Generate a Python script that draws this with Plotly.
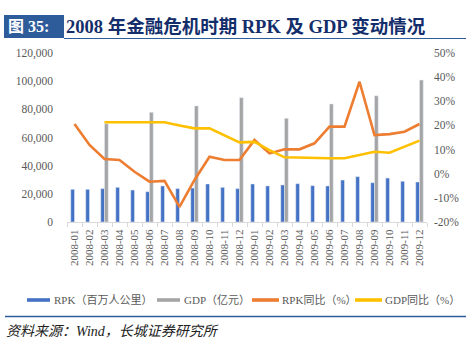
import plotly.graph_objects as go

months = ["2008-01", "2008-02", "2008-03", "2008-04", "2008-05", "2008-06",
          "2008-07", "2008-08", "2008-09", "2008-10", "2008-11", "2008-12",
          "2009-01", "2009-02", "2009-03", "2009-04", "2009-05", "2009-06",
          "2009-07", "2009-08", "2009-09", "2009-10", "2009-11", "2009-12"]

rpk = [23200, 23200, 23700, 24600, 22700, 21500, 25600, 23700, 24100, 27000, 24600, 23700,
       27000, 25600, 26300, 27200, 25800, 25600, 29800, 32200, 27900, 31200, 28900, 28400]

gdp = [None, None, 69800, None, None, 77900, None, None, 82400, None, None, 88300,
       None, None, 73600, None, None, 83800, None, None, 89600, None, None, 100800]

rpk_yoy = [20.6, 11.9, 6.1, 5.7, 0.8, -3.3, -3.0, -13.7, -2.6, 7.0, 5.7, 5.7,
           14.0, 8.4, 10.1, 10.1, 12.6, 19.5, 19.5, 38.1, 16.0, 16.4, 17.4, 20.6]

gdp_yoy = [None, None, 21.3, 21.3, 21.3, 21.3, 21.3, 20.0, 18.8, 18.8, 16.0, 13.0,
           13.2, 9.8, 6.8, 6.6, 6.6, 6.4, 6.4, 7.7, 9.1, 8.7, 11.2, 13.7]

left_ticks = [0, 20000, 40000, 60000, 80000, 100000, 120000]
right_ticks = [-20, -10, 0, 10, 20, 30, 40, 50]
right_labels = ["-20%", "-10%", "0%", "10%", "20%", "30%", "40%", "50%"]

series_names = ["RPK（百万人公里）", "GDP（亿元）", "RPK同比（%）", "GDP同比（%）"]
colors = ["#4472C4", "#A5A5A5", "#ED7D31", "#FFC000"]

title_tag = "图 35:"
title_text = "2008 年金融危机时期 RPK 及 GDP 变动情况"
source_text = "资料来源：Wind，长城证券研究所"

W, H = 474, 350
L, R, T, B = 67, 427, 53, 222
FONT = "Liberation Serif, Noto Sans CJK SC, serif"
GREY = "#595959"
BLUE = "#2E5C9A"


def px(x):
    return (x - L) / (R - L)


def py(y):
    return (B - y) / (B - T)


fig = go.Figure()
fig.add_trace(go.Bar(x=months, y=rpk, name=series_names[0], marker_color=colors[0], yaxis="y"))
fig.add_trace(go.Bar(x=months, y=gdp, name=series_names[1], marker_color=colors[1], yaxis="y"))
fig.add_trace(go.Scatter(x=months, y=rpk_yoy, name=series_names[2], mode="lines",
                         line=dict(color=colors[2], width=2.6), yaxis="y2"))
fig.add_trace(go.Scatter(x=months, y=gdp_yoy, name=series_names[3], mode="lines",
                         line=dict(color=colors[3], width=2.6), yaxis="y2"))

shapes = []
annotations = []

# title block
shapes.append(dict(type="rect", xref="paper", yref="paper", x0=px(4), x1=px(64), y0=py(15), y1=py(38),
                   fillcolor=BLUE, line=dict(width=0), layer="above"))
annotations.append(dict(text="<b>" + title_tag + "</b>", xref="paper", yref="paper", x=px(6), y=py(26.5),
                        xanchor="left", yanchor="middle", showarrow=False,
                        font=dict(family=FONT, size=16, color="white")))
annotations.append(dict(text="<b>" + title_text + "</b>", xref="paper", yref="paper", x=px(64), y=py(26.5),
                        xanchor="left", yanchor="middle", showarrow=False,
                        font=dict(family=FONT, size=18.5, color="#132E6B")))
shapes.append(dict(type="line", xref="paper", yref="paper", x0=px(64), x1=px(466), y0=py(38.5), y1=py(38.5),
                   line=dict(color=BLUE, width=1.2)))

# custom legend
sw_x = [(27, 50), (157, 180), (252, 279), (355, 382)]
tx_x = [52, 182, 280, 383]
for (a, b), t, c, n in zip(sw_x, tx_x, colors, series_names):
    shapes.append(dict(type="rect", xref="paper", yref="paper", x0=px(a), x1=px(b), y0=py(301.8), y1=py(298.2),
                       fillcolor=c, line=dict(width=0)))
    annotations.append(dict(text=n, xref="paper", yref="paper", x=px(t), y=py(300),
                            xanchor="left", yanchor="middle", showarrow=False,
                            font=dict(family=FONT, size=11, color=GREY)))

# source
shapes.append(dict(type="line", xref="paper", yref="paper", x0=px(5), x1=px(466), y0=py(316.5), y1=py(316.5),
                   line=dict(color=BLUE, width=1.5)))
annotations.append(dict(text=source_text, xref="paper", yref="paper", x=px(4), y=py(331),
                        xanchor="left", yanchor="middle", showarrow=False,
                        font=dict(family=FONT, size=14, color="#222222", style="italic")))

fig.update_layout(
    width=W, height=H,
    margin=dict(l=L, r=W - R, t=T, b=H - B, pad=0),
    paper_bgcolor="white", plot_bgcolor="white",
    barmode="group", bargap=0.5, bargroupgap=0,
    showlegend=False,
    font=dict(family=FONT, size=11, color=GREY),
    xaxis=dict(type="category", tickangle=-90, showgrid=False, showline=True, linecolor="#D9D9D9",
               linewidth=1, ticks="outside", tickson="boundaries", ticklen=4, tickcolor="#D9D9D9",
               tickfont=dict(family=FONT, size=11, color=GREY), ticklabelstandoff=2),
    yaxis=dict(range=[0, 120000], tickvals=left_ticks, tickformat=",", showgrid=False, zeroline=False,
               showline=False, tickfont=dict(family=FONT, size=11.5, color=GREY), ticklabelstandoff=13),
    yaxis2=dict(range=[-20, 50], tickmode="array", tickvals=right_ticks, ticktext=right_labels,
                overlaying="y", side="right",
                showgrid=False, zeroline=False, showline=False,
                tickfont=dict(family=FONT, size=11.5, color=GREY), ticklabelstandoff=6),
    shapes=shapes,
    annotations=annotations,
)

fig.write_html("out.html")
